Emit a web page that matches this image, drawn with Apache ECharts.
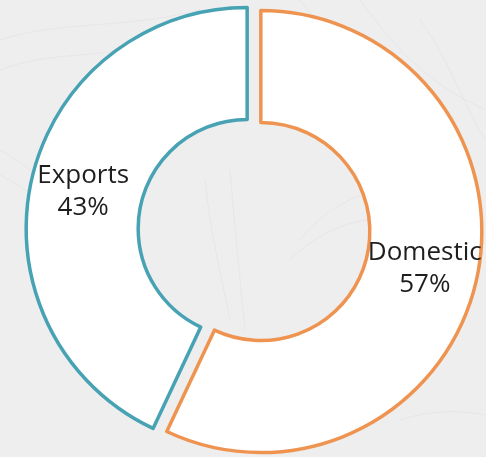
<!DOCTYPE html>
<html>
<head>
<meta charset="utf-8">
<script src="https://cdn.jsdelivr.net/npm/echarts@6/dist/echarts.min.js"></script>
<style>
html,body{margin:0;padding:0;background:#eeeeee;}
#main{width:486px;height:457px;}
</style>
</head>
<body>
<div id="main"></div>
<script>
const categories = ['Domestic', 'Exports'];
const shares = [57, 43];
const borderColors = ['#ef9450', '#47a2b4'];

const chart = echarts.init(document.getElementById('main'), null, {renderer: 'canvas'});
const data = categories.map((name, i) => ({
  name: name,
  value: shares[i],
  selected: true,
  itemStyle: {color: '#ffffff', borderColor: borderColors[i], borderWidth: 3.5},
  select: {itemStyle: {color: '#ffffff', borderColor: borderColors[i], borderWidth: 3.5}},
  emphasis: {itemStyle: {color: '#ffffff', borderColor: borderColors[i], borderWidth: 3.5}}
}));

// faint decorative background texture curves: [x1,y1,cpx1,cpy1,cpx2,cpy2,x2,y2]
const textureCurves = [
  [0,40,60,20,120,30,200,10],
  [0,70,50,50,100,60,180,40],
  [0,150,20,160,40,180,70,200],
  [0,175,20,185,40,200,65,215],
  [300,0,330,40,360,90,420,120],
  [360,0,390,40,420,80,486,110],
  [420,20,450,60,470,120,486,140],
  [300,240,330,200,380,180,440,190],
  [290,260,330,220,380,210,450,220],
  [400,420,430,410,460,410,486,415],
  [230,320,220,270,210,230,205,180],
  [245,330,240,280,235,230,230,170]
];
const texture = textureCurves.map(c => ({
  type: 'bezierCurve',
  z: -10,
  silent: true,
  shape: {x1: c[0], y1: c[1], cpx1: c[2], cpy1: c[3], cpx2: c[4], cpy2: c[5], x2: c[6], y2: c[7]},
  style: {fill: null, stroke: '#e0e0e0', lineWidth: 0.6}
}));

chart.setOption({
  backgroundColor: '#eeeeee',
  animation: false,
  graphic: {elements: texture},
  series: [{
    type: 'pie',
    z: 2,
    center: [254, 230],
    radius: [109, 221],
    startAngle: 90,
    clockwise: true,
    selectedMode: 'multiple',
    selectedOffset: 7,
    avoidLabelOverlap: false,
    label: {
      show: true,
      position: 'inside',
      formatter: '{b}\n{d}%',
      fontFamily: 'Open Sans',
      fontSize: 26,
      lineHeight: 32,
      color: '#1e1e1e'
    },
    labelLine: {show: false},
    data: data
  }]
});
</script>
</body>
</html>
